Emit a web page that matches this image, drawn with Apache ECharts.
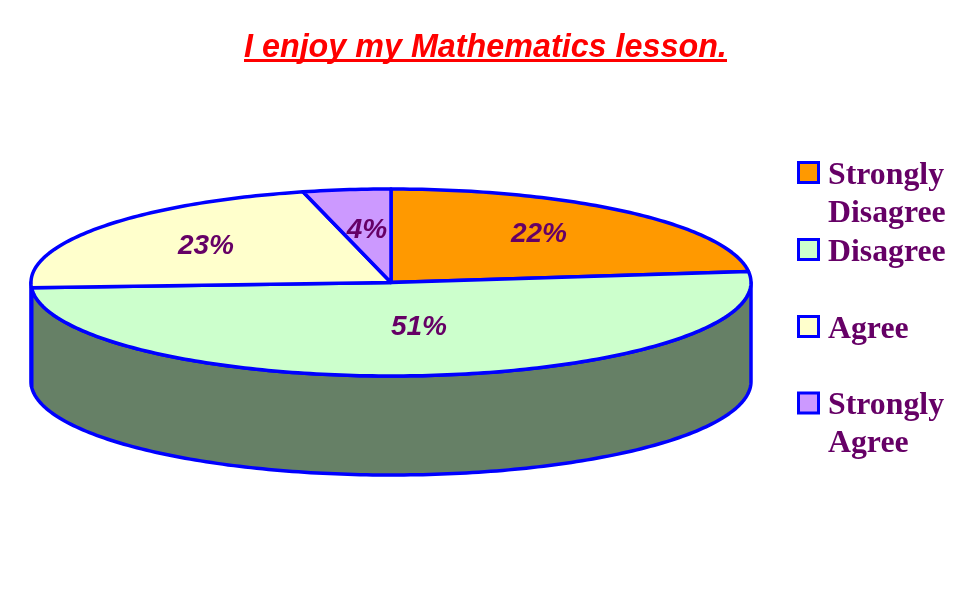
<!DOCTYPE html>
<html><head><meta charset="utf-8">
<style>html,body{margin:0;padding:0;background:#fff}#c{width:977px;height:600px}</style>
<script src="https://cdn.jsdelivr.net/npm/echarts@6/dist/echarts.min.js"></script>
</head><body><div id="c"></div>
<script>
const titleText = 'I enjoy my Mathematics lesson.';
const categories = ['Strongly Disagree', 'Disagree', 'Agree', 'Strongly Agree'];
const values = [22, 51, 23, 4];
const colors = ['#FF9900', '#CCFFCC', '#FFFFCC', '#CC99FF'];
const wallColors = ['#804D00', '#668066', '#808066', '#664D80'];
const labelOffsets = [[148, -48], [28, 45], [-185, -36], [-24, -52]];
const legendTops = [118.5, 233.5, 310.5, 349];

const PIE = {cx: 391, cy: 282.5, rx: 360, ry: 93.5, depth: 99, tilt: 0.071};
const BLUE = '#0000FF', TEXT = '#660066';
const total = values.reduce((a, b) => a + b, 0);

// Oblique projection of pie angle (degrees clockwise from top)
function project(deg) {
  const t = deg * Math.PI / 180;
  let d = Math.atan2(Math.sin(t), Math.cos(t) - PIE.tilt * Math.sin(t)) * 180 / Math.PI;
  if (d < 0) d += 360;
  if (deg >= 360) d = 360;
  return d;
}
function pt(deg, dy) {
  const t = deg * Math.PI / 180;
  return [PIE.cx + PIE.rx * Math.sin(t), PIE.cy - PIE.ry * Math.cos(t) + (dy || 0)];
}
function arc(a, b, dy) {
  const pts = [];
  const n = Math.max(2, Math.ceil(Math.abs(b - a)));
  for (let i = 0; i <= n; i++) pts.push(pt(a + (b - a) * i / n, dy));
  return pts;
}
function sliceRender(idx) {
  const before = values.slice(0, idx).reduce((a, b) => a + b, 0);
  return function (params, api) {
    const v = api.value(0);
    const a = project(before / total * 360);
    const b = project((before + v) / total * 360);
    const children = [];
    const wa = Math.max(a, 90), wb = Math.min(b, 270);
    if (wb > wa) {
      children.push({
        type: 'polygon',
        shape: {points: arc(wa, wb, 0).concat(arc(wb, wa, PIE.depth))},
        style: {fill: wallColors[idx], stroke: BLUE, lineWidth: 3.5, lineJoin: 'round'}
      });
    }
    children.push({
      type: 'polygon',
      shape: {points: [[PIE.cx, PIE.cy]].concat(arc(a, b, 0))},
      style: {fill: colors[idx], stroke: BLUE, lineWidth: 3.5, lineJoin: 'round'}
    });
    children.push({
      type: 'text', z2: 10,
      style: {
        x: PIE.cx + labelOffsets[idx][0], y: PIE.cy + labelOffsets[idx][1],
        text: Math.round(v / total * 100) + '%',
        align: 'center', verticalAlign: 'middle',
        font: 'italic bold 28px "Liberation Sans"', fill: TEXT
      }
    });
    return {type: 'group', children};
  };
}

const chart = echarts.init(document.getElementById('c'), null, {renderer: 'canvas'});
chart.setOption({
  animation: false,
  backgroundColor: '#fff',
  title: {
    text: titleText, left: 244, top: 32, padding: 0,
    textStyle: {color: '#FF0000', fontFamily: 'Liberation Sans', fontWeight: 'bold', fontStyle: 'italic', fontSize: 32.3}
  },
  graphic: [{
    type: 'rect', shape: {x: 244, y: 59, width: 483, height: 3}, style: {fill: '#FF0000'}
  }],
  legend: categories.map((name, i) => ({
    // the trailing moveTo extends the symbol's box so the square sits 3px above the text's centre
    data: [{name, icon: 'path://M0 0H20V20H0Z M0 26', itemStyle: {color: colors[i], borderColor: BLUE, borderWidth: 3}}],
    left: 797, top: legendTops[i], padding: 0, itemWidth: 29, itemHeight: 26, itemGap: 0,
    selectedMode: false, orient: 'vertical',
    // a leading blank line centres the symbol on the first line of two-line names
    formatter: n => n.includes(' ') ? '\n' + n.replace(' ', '\n') : n,
    textStyle: {
      color: TEXT, fontFamily: 'Liberation Serif', fontWeight: 'bold', fontSize: 31.8, lineHeight: 38
    }
  })),
  series: categories.map((name, i) => ({
    type: 'custom', name, coordinateSystem: 'none', silent: true,
    itemStyle: {color: colors[i]},
    renderItem: sliceRender(i),
    data: [[values[i]]]
  }))
});
</script></body></html>
